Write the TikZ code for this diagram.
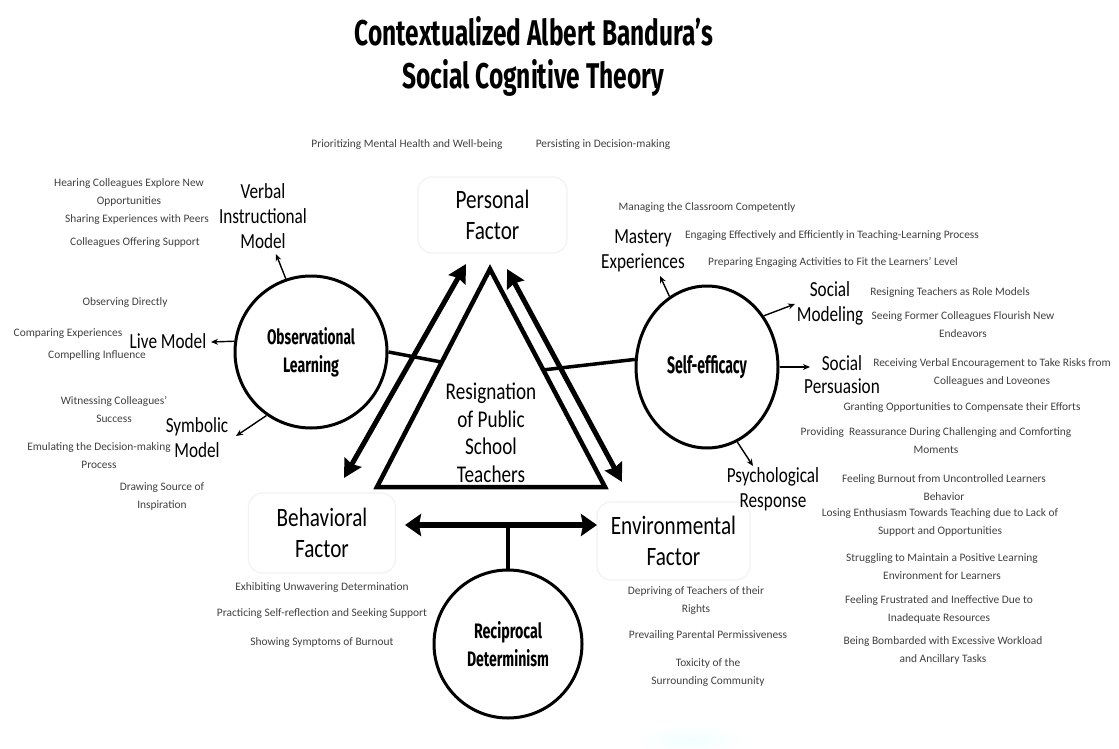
\documentclass[tikz,border=0pt]{standalone}
\usepackage{fontspec}
\usepackage{graphicx}
\setmainfont{Carlito}
\newfontfamily\labf[FakeStretch=0.8]{Carlito}
\newfontfamily\condf{Fira Sans}
\usetikzlibrary{arrows.meta,shapes.geometric,calc}
\newcommand\cfit[3]{\resizebox{#1pt}{#2pt}{\condf\bfseries #3}}
\tikzset{
  small/.style={font=\fontsize{11.4}{18}\selectfont, text=black!75, align=center, inner sep=0pt},
  mid/.style={font=\labf\fontsize{21.5}{25}\selectfont, align=center, inner sep=0pt},
  factorbox/.style={rounded corners=14pt, fill=white, draw=black!5, line width=1.2pt, align=center, inner sep=0pt, font=\labf\fontsize{26.5}{31}\selectfont},
  tritext/.style={font=\labf\fontsize{24}{27.5}\selectfont, align=center, inner sep=0pt},
  ring/.style={circle, draw, line width=3pt, inner sep=0pt, align=center, font=\fontsize{17}{28}\selectfont},
  oval/.style={ellipse, draw, line width=3pt, inner sep=0pt},
  tinyarrow/.style={-{Stealth[length=7pt,width=6pt]}, line width=1.4pt},
  dbl/.style={{Stealth[length=18pt,width=19pt,inset=2pt]}-{Stealth[length=18pt,width=19pt,inset=2pt]}, line width=5pt},
  hdbl/.style={{Stealth[length=16pt,width=22pt,inset=2pt]}-{Stealth[length=16pt,width=22pt,inset=2pt]}, line width=6pt},
  link/.style={line width=3.5pt},
  tri/.style={line width=4.5pt, line join=miter}
}
\begin{document}
\begin{tikzpicture}[x=1pt,y=-1pt]
\useasboundingbox (0,0) rectangle (1119,749);
\fill[white] (0,0) rectangle (1119,749);
\shade[inner color=cyan!5, outer color=white] (690,740) ellipse [x radius=60pt, y radius=16pt];

% title
\node[anchor=base, inner sep=0pt] (t1) at (534,46) {\cfit{358}{29}{Contextualized Albert Bandura’s}};
\node[anchor=base, inner sep=0pt] (t2) at (533,89) {\cfit{262}{29}{Social Cognitive Theory}};

% top personal items
\node[small] (pm) at (407,145) {Prioritizing Mental Health and Well-being};
\node[small] (pd) at (603,145) {Persisting in Decision-making};

% factor boxes
\node[factorbox, minimum width=149pt, minimum height=76pt] (pf) at (492.5,215) {Personal\\Factor};
\node[factorbox, minimum width=147pt, minimum height=80pt] (bf) at (322,533) {Behavioral\\Factor};
\node[factorbox, minimum width=153pt, minimum height=78pt] (ef) at (673.5,541) {Environmental\\Factor};

% triangle
\coordinate (apex) at (490,269);
\coordinate (bL) at (377,487);
\coordinate (bR) at (605,487);
\draw[tri] (apex) -- (bL) -- (bR) -- cycle;
\node[tritext] (rp) at (491,433) {Resignation\\of Public\\School\\Teachers};

% circles
\node[ring, minimum size=152pt] (obs) at (311,352) {\cfit{88}{17}{Observational}\\\cfit{56}{17}{Learning}};
\node[oval, minimum width=142pt, minimum height=162pt] (se) at (707,367) {\cfit{80}{18}{Self-efficacy}};
\node[ring, minimum size=148pt] (rd) at (508,644) {\cfit{68}{17}{Reciprocal}\\\cfit{82}{17}{Determinism}};

% links to triangle
\coordinate (tL) at ($(apex)!0.427!(bL)$);
\coordinate (tR) at ($(apex)!0.463!(bR)$);
\draw[link] (obs.east) -- (tL);
\draw[link] (se.174) -- (tR);

% big double arrows
\coordinate (aL1) at (466,264);
\coordinate (aL2) at (344,478);
\coordinate (aR1) at (507,269);
\coordinate (aR2) at (622,482);
\draw[dbl] (aL1) -- (aL2);
\draw[dbl] (aR1) -- (aR2);
\coordinate (hL) at (405,525);
\coordinate (hR) at (597,525);
\draw[hdbl] (hL) -- (hR);
\draw[line width=3.5pt] (rd.north) -- (rd.north |- hL);

% observational learning sub-models
\node[mid] (vim) at (263,216) {Verbal\\Instructional\\Model};
\node[mid] (lm) at (168,341) {Live Model};
\node[mid] (sym) at (197,438) {Symbolic\\Model};
\coordinate (vimTip) at (276,254);
\coordinate (lmTip) at (211,342);
\coordinate (symTip) at (236,436);
\draw[tinyarrow] (obs.109) -- (vimTip);
\draw[tinyarrow] (obs.172) -- (lmTip);
\draw[tinyarrow] (obs.235) -- (symTip);

\node[small] (h1) at (129,192) {Hearing Colleagues Explore New\\Opportunities};
\node[small] (h2) at (137,220) {Sharing Experiences with Peers};
\node[small] (h3) at (135,243) {Colleagues Offering Support};
\node[small] (l1) at (125,303) {Observing Directly};
\node[small] (l2) at (68,334) {Comparing Experiences};
\node[small] (l3) at (97,356) {Compelling Influence};
\node[small] (s1) at (114,410) {Witnessing Colleagues’\\Success};
\node[small] (s2) at (99,456) {Emulating the Decision-making\\Process};
\node[small] (s3) at (162,496) {Drawing Source of\\Inspiration};

% self-efficacy sources
\node[mid] (me) at (643,251) {Mastery\\Experiences};
\node[mid] (smo) at (830,303) {Social\\Modeling};
\node[mid, font=\labf\fontsize{21.5}{23}\selectfont] (spe) at (842,375) {Social\\Persuasion};
\node[mid] (psy) at (773,489) {Psychological\\Response};
\coordinate (meTip) at (660,276);
\coordinate (smoTip) at (795,304);
\coordinate (speTip) at (810,367);
\coordinate (psyTip) at (753,466);
\draw[tinyarrow] (se.118) -- (meTip);
\draw[tinyarrow] (se.42) -- (smoTip);
\draw[tinyarrow] (se.east) -- (speTip);
\draw[tinyarrow] (se.292) -- (psyTip);

\node[small] (m1) at (707,208) {Managing the Classroom Competently};
\node[small] (m2) at (832,236) {Engaging Effectively and Efficiently in Teaching-Learning Process};
\node[small] (m3) at (833,262) {Preparing Engaging Activities to Fit the Learners’ Level};
\node[small] (o1) at (950,293) {Resigning Teachers as Role Models};
\node[small] (o2) at (963,325) {Seeing Former Colleagues Flourish New\\Endeavors};
\node[small] (p1) at (992,373) {Receiving Verbal Encouragement to Take Risks from\\Colleagues and Loveones};
\node[small] (p2) at (962,408) {Granting Opportunities to Compensate their Efforts};
\node[small] (p3) at (936,441) {Providing~ Reassurance During Challenging and Comforting\\Moments};
\node[small] (r1) at (944,488) {Feeling Burnout from Uncontrolled Learners\\Behavior};
\node[small] (r2) at (940,522) {Losing Enthusiasm Towards Teaching due to Lack of\\Support and Opportunities};
\node[small] (r3) at (942,567) {Struggling to Maintain a Positive Learning\\Environment for Learners};
\node[small] (r4) at (939,609) {Feeling Frustrated and Ineffective Due to\\Inadequate Resources};
\node[small] (r5) at (943,650) {Being Bombarded with Excessive Workload\\and Ancillary Tasks};

% behavioral items
\node[small] (b1) at (322,588) {Exhibiting Unwavering Determination};
\node[small] (b2) at (322,614) {Practicing Self-reflection and Seeking Support};
\node[small] (b3) at (322,643) {Showing Symptoms of Burnout};

% environmental items
\node[small] (e1) at (696,601) {Depriving of Teachers of their\\Rights};
\node[small] (e2) at (708,636) {Prevailing Parental Permissiveness};
\node[small] (e3) at (708,673) {Toxicity of the\\Surrounding Community};
\end{tikzpicture}
\end{document}
